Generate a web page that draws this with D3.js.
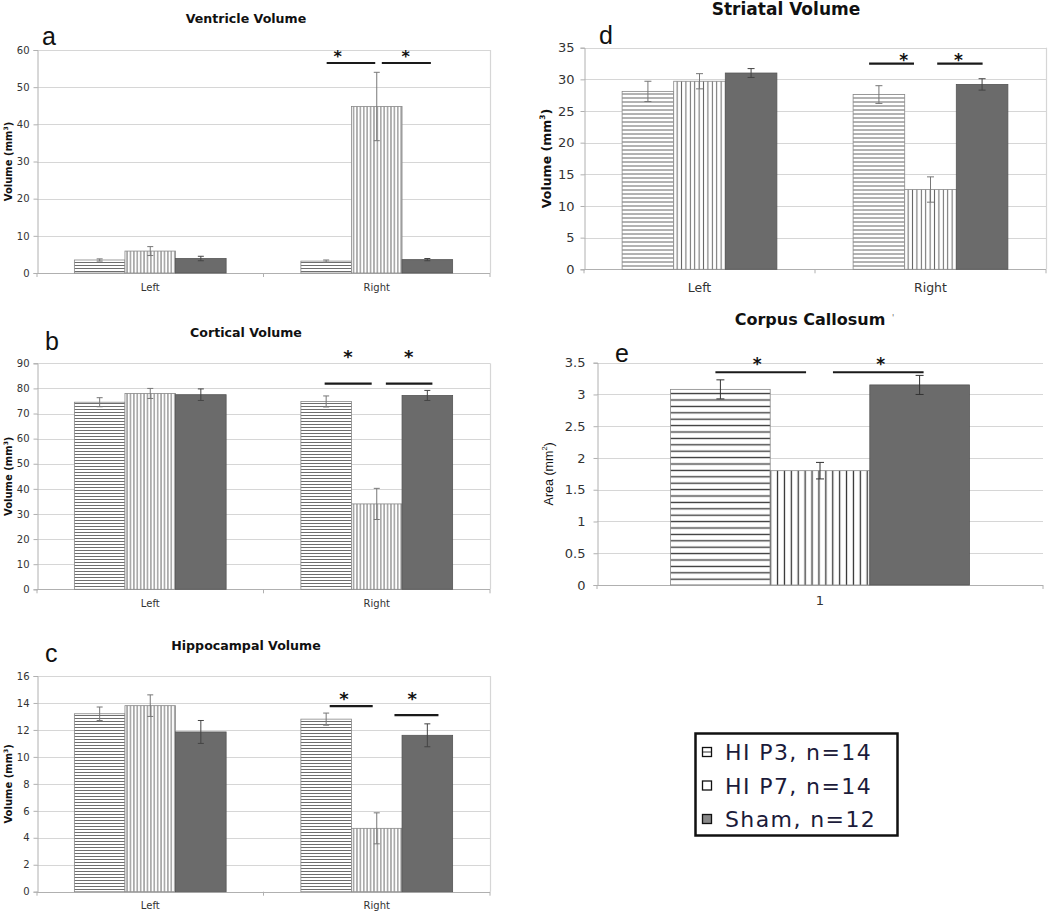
<!DOCTYPE html>
<html><head><meta charset="utf-8">
<script src="https://cdn.jsdelivr.net/npm/d3@7"></script>
<style>body{margin:0;background:#fff}svg{display:block}</style>
</head><body><svg id="c" width="1050" height="911"></svg>
<script>
// ---------- data ----------
const series = ["HI P3, n=14", "HI P7, n=14", "Sham, n=12"];
const sides = ["Left", "Right"];
const ccCategory = ["1"];

const ventricleMean = [[3.5, 5.9, 3.9], [3.2, 44.8, 3.6]];
const ventricleErr  = [[0.3, 1.2, 0.6], [0.3, 9.2, 0.3]];
const corticalMean  = [[74.5, 78.0, 77.5], [74.8, 34.0, 77.2]];
const corticalErr   = [[1.8, 2.0, 2.3], [2.2, 6.2, 2.0]];
const hippoMean     = [[13.2, 13.8, 11.85], [12.8, 4.7, 11.6]];
const hippoErr      = [[0.5, 0.8, 0.85], [0.45, 1.15, 0.85]];
const striatalMean  = [[28.1, 29.7, 31.0], [27.6, 12.6, 29.2]];
const striatalErr   = [[1.6, 1.2, 0.7], [1.4, 2.0, 0.9]];
const ccMean        = [[3.08, 1.80, 3.15]];
const ccErr         = [[0.15, 0.13, 0.15]];

// significance annotations: category, span (in bar units within group), line value, star position, star value
const ventricleSig = [["Right", 0.51, 1.47, 56.5, 0.73, 59.0], ["Right", 1.60, 2.57, 56.5, 2.07, 59.0]];
const corticalSig  = [["Right", 0.47, 1.40, 81.9, 0.93, 94.0], ["Right", 1.68, 2.60, 81.9, 2.13, 94.0]];
const hippoSig     = [["Right", 0.57, 1.42, 13.77, 0.85, 14.6], ["Right", 1.85, 2.72, 13.10, 2.20, 14.6]];
const striatalSig  = [["Right", 0.31, 1.18, 32.5, 0.98, 33.6], ["Right", 1.63, 2.51, 32.5, 2.04, 33.6]];
const ccSig        = [["1", 0.45, 1.36, 3.35, 0.87, 3.53], ["1", 1.63, 2.54, 3.35, 2.11, 3.53]];

// ---------- layout ----------
const panels = [
  {key:"a", title:"Ventricle Volume", ylab:"Volume (mm", sup:"3", cats:sides, mean:ventricleMean, err:ventricleErr, sig:ventricleSig, yMax:60, yStep:10,
   L:37, R:490, T:50, B:273, titleX:246, titleY:23, titleFs:12.6, letX:42, letY:45, ylabX:12, ylabFs:10, ylabFont:"DejaVu Sans", ylabW:"bold",
   tickFs:10, tickGap:8, xlabFs:10, xlabDy:17.5, starFs:16, hs:3, vs:3.4, hatchCol:"#6e6e6e", hatchW:1, errCol:"#777", errSham:"#444", cap:6, border:true},
  {key:"b", title:"Cortical Volume", ylab:"Volume (mm", sup:"3", cats:sides, mean:corticalMean, err:corticalErr, sig:corticalSig, yMax:90, yStep:10,
   L:37, R:490, T:363.3, B:589.3, titleX:246, titleY:336.5, titleFs:12.6, letX:45, letY:350, ylabX:12, ylabFs:10, ylabFont:"DejaVu Sans", ylabW:"bold",
   tickFs:10, tickGap:8, xlabFs:10, xlabDy:17.5, starFs:18, hs:3, vs:3.4, hatchCol:"#6e6e6e", hatchW:1, errCol:"#777", errSham:"#444", cap:6, border:true},
  {key:"c", title:"Hippocampal Volume", ylab:"Volume (mm", sup:"3", cats:sides, mean:hippoMean, err:hippoErr, sig:hippoSig, yMax:16, yStep:2,
   L:37, R:490, T:676, B:891.7, titleX:246, titleY:650, titleFs:12.6, letX:45, letY:662, ylabX:12, ylabFs:10, ylabFont:"DejaVu Sans", ylabW:"bold",
   tickFs:10, tickGap:8, xlabFs:10, xlabDy:17, starFs:18, hs:3, vs:3.4, hatchCol:"#6e6e6e", hatchW:1, errCol:"#777", errSham:"#444", cap:6, border:true},
  {key:"d", title:"Striatal Volume", ylab:"Volume (mm", sup:"3", cats:sides, mean:striatalMean, err:striatalErr, sig:striatalSig, yMax:35, yStep:5,
   L:584, R:1046, T:47.7, B:269.3, titleX:786, titleY:14.5, titleFs:17, letX:599, letY:43.5, ylabX:551, ylabFs:12.5, ylabFont:"DejaVu Sans", ylabW:"bold",
   tickFs:13, tickGap:10, xlabFs:12.5, xlabDy:22.4, starFs:17, hs:4, vs:4.4, hatchCol:"#666", hatchW:1, errCol:"#777", errSham:"#444", cap:7, border:true},
  {key:"e", title:"Corpus Callosum", ylab:"Area (mm", sup:"2", cats:ccCategory, mean:ccMean, err:ccErr, sig:ccSig, yMax:3.5, yStep:0.5,
   L:597, R:1043, T:362.7, B:585, titleX:810, titleY:325, titleFs:16, letX:615, letY:361.7, ylabX:553, ylabFs:12.5, ylabFont:"Liberation Sans", ylabW:"normal",
   tickFs:13, tickGap:12, xlabFs:13, xlabDy:20, starFs:17, hs:6.4, vs:6.9, hatchCol:"#333", hatchW:1.3, errCol:"#333", errSham:"#333", cap:8, border:false}
];

const svg = d3.select("#c");
const defs = svg.append("defs");
const grid = "#d6d6d6", axisCol = "#b0b0b0", shamFill = "#6b6b6b";

function patterns(p){
  const ph = defs.append("pattern").attr("id","h"+p.key).attr("patternUnits","userSpaceOnUse").attr("width",10).attr("height",p.hs);
  ph.append("rect").attr("width",10).attr("height",p.hs).attr("fill","#fff");
  ph.append("line").attr("x1",0).attr("x2",10).attr("y1",p.hs/2).attr("y2",p.hs/2).attr("stroke",p.hatchCol).attr("stroke-width",p.hatchW);
  const pv = defs.append("pattern").attr("id","v"+p.key).attr("patternUnits","userSpaceOnUse").attr("width",p.vs).attr("height",10);
  pv.append("rect").attr("width",p.vs).attr("height",10).attr("fill","#fff");
  pv.append("line").attr("y1",0).attr("y2",10).attr("x1",p.vs/2).attr("x2",p.vs/2).attr("stroke",p.hatchCol).attr("stroke-width",p.hatchW);
}

panels.forEach(p => {
  patterns(p);
  const g = svg.append("g");
  const y = d3.scaleLinear().domain([0, p.yMax]).range([p.B, p.T]);
  const x0 = d3.scaleBand().domain(p.cats).range([p.L, p.R]).paddingInner(0.33).paddingOuter(0.165);
  const x1 = d3.scaleBand().domain(d3.range(series.length)).range([0, x0.bandwidth()]);
  const ticks = d3.range(0, p.yMax + 1e-9, p.yStep).map(v => +v.toFixed(3));

  // gridlines
  g.append("g").selectAll("line").data(ticks.filter(t => t > 0)).join("line")
    .attr("x1", p.L).attr("x2", p.R).attr("y1", d => Math.round(y(d)) + 0.5).attr("y2", d => Math.round(y(d)) + 0.5)
    .attr("stroke", grid).attr("stroke-width", 1.2);
  if (p.border) g.append("line").attr("x1", p.R + 0.5).attr("x2", p.R + 0.5).attr("y1", y(p.yMax)).attr("y2", p.B).attr("stroke", grid).attr("stroke-width", 1.2);

  // y axis
  const ya = d3.axisLeft(y).tickValues(ticks).tickSize(4).tickPadding(p.tickGap - 4).tickFormat(d => String(d));
  const yg = g.append("g").attr("transform", `translate(${p.L + 0.5},0)`).call(ya);
  yg.select(".domain").attr("stroke", axisCol);
  yg.selectAll(".tick line").attr("stroke", axisCol);
  yg.selectAll(".tick text").attr("font-family", "DejaVu Sans").attr("font-size", p.tickFs).attr("fill", "#333");

  // x axis
  const xg = g.append("g");
  xg.append("line").attr("x1", p.L).attr("x2", p.R).attr("y1", Math.round(p.B) + 0.5).attr("y2", Math.round(p.B) + 0.5).attr("stroke", axisCol).attr("stroke-width", 1.2);
  const bounds = [p.L].concat(p.cats.map(c => x0(c) + x0.bandwidth() + x0.step() * 0.165));
  xg.selectAll("line.tk").data(bounds).join("line").attr("class", "tk")
    .attr("x1", d => d).attr("x2", d => d).attr("y1", p.B).attr("y2", p.B + 4).attr("stroke", axisCol);
  xg.selectAll("text").data(p.cats).join("text")
    .attr("x", d => x0(d) + x0.bandwidth() / 2).attr("y", p.B + p.xlabDy)
    .attr("text-anchor", "middle").attr("font-family", "DejaVu Sans").attr("font-size", p.xlabFs).attr("fill", "#333").text(d => d);

  // bars
  const fills = ["url(#h" + p.key + ")", "url(#v" + p.key + ")", shamFill];
  const strokes = ["#888", "#888", "#555"];
  p.cats.forEach((c, ci) => {
    const bg = g.append("g").attr("transform", `translate(${x0(c)},0)`);
    bg.selectAll("rect").data(p.mean[ci]).join("rect")
      .attr("x", (d, i) => x1(i)).attr("width", x1.bandwidth())
      .attr("y", d => y(d)).attr("height", d => y(0) - y(d))
      .attr("fill", (d, i) => fills[i]).attr("stroke", (d, i) => strokes[i]).attr("stroke-width", 0.8);
    // error bars
    p.mean[ci].forEach((m, i) => {
      const cx = x1(i) + x1.bandwidth() / 2, e = p.err[ci][i];
      const col = i === 2 ? p.errSham : p.errCol;
      bg.append("line").attr("x1", cx).attr("x2", cx).attr("y1", y(m - e)).attr("y2", y(m + e)).attr("stroke", col);
      [m - e, m + e].forEach(v => bg.append("line").attr("x1", cx - p.cap / 2).attr("x2", cx + p.cap / 2).attr("y1", y(v)).attr("y2", y(v)).attr("stroke", col));
    });
  });

  // significance
  p.sig.forEach(([c, a, b, v, sp, sv]) => {
    const ox = x0(c), w = x1.bandwidth();
    g.append("line").attr("x1", ox + a * w).attr("x2", ox + b * w).attr("y1", y(v)).attr("y2", y(v))
      .attr("stroke", "#1a1a1a").attr("stroke-width", 2.2);
    g.append("text").attr("x", ox + sp * w).attr("y", y(sv) + p.starFs * 0.54)
      .attr("text-anchor", "middle").attr("font-family", "DejaVu Sans").attr("font-weight", "bold")
      .attr("font-size", p.starFs).attr("fill", "#111").text("*");
  });

  // title
  g.append("text").attr("x", p.titleX).attr("y", p.titleY).attr("text-anchor", "middle")
    .attr("font-family", "DejaVu Sans").attr("font-weight", "bold").attr("font-size", p.titleFs).attr("fill", "#111").text(p.title);
  // panel letter
  g.append("text").attr("x", p.letX).attr("y", p.letY).attr("font-family", "Liberation Sans").attr("font-size", 25).attr("fill", "#111").text(p.key);
  // y label
  const yl = g.append("text").attr("transform", `translate(${p.ylabX},${(p.T + p.B) / 2}) rotate(-90)`)
    .attr("text-anchor", "middle").attr("font-family", p.ylabFont).attr("font-weight", p.ylabW).attr("font-size", p.ylabFs).attr("fill", "#111");
  yl.append("tspan").text(p.ylab);
  yl.append("tspan").attr("font-size", p.ylabFs * 0.6).attr("dy", -p.ylabFs * 0.45).text(p.sup);
  yl.append("tspan").attr("dy", p.ylabFs * 0.45).text(")");
});

// stray mark after Corpus Callosum title
svg.append("text").attr("x", 892).attr("y", 321).attr("font-family", "DejaVu Sans").attr("font-size", 8).attr("fill", "#666").text("'");

// ---------- legend ----------
const lg = svg.append("g");
lg.append("rect").attr("x", 695.5).attr("y", 733.5).attr("width", 202).attr("height", 102)
  .attr("fill", "#fff").attr("stroke", "#111").attr("stroke-width", 2.5);
const ly = d3.scalePoint().domain(series).range([752, 819]);
const li = lg.selectAll("g").data(series).join("g").attr("transform", d => `translate(0,${ly(d)})`);
li.append("rect").attr("x", 702.5).attr("y", -4.5).attr("width", 9).attr("height", 9)
  .attr("fill", (d, i) => i === 2 ? "#888" : "#fff").attr("stroke", "#111").attr("stroke-width", 1.3);
li.filter((d, i) => i === 0).append("line").attr("x1", 703).attr("x2", 711).attr("y1", 0).attr("y2", 0).attr("stroke", "#333");
li.append("text").attr("x", 725).attr("y", 8).attr("font-family", "DejaVu Sans").attr("font-size", 22)
  .attr("letter-spacing", 1.4).attr("fill", "#1b1b3a").text(d => d);
</script></body></html>
